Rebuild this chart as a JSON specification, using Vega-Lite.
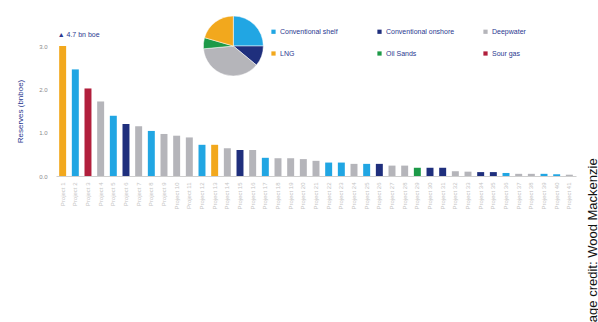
{
  "$schema": "https://vega.github.io/schema/vega-lite/v6.json",
  "width": 520,
  "height": 130,
  "autosize": {"type": "none"},
  "padding": {"left": 56, "top": 46, "right": 22, "bottom": 146},
  "background": "white",
  "config": {
    "font": "Liberation Sans",
    "view": {"stroke": null}
  },
  "datasets": {
    "projects": [
      {"name": "Project 1", "type": "LNG", "reserves": 4.7},
      {"name": "Project 2", "type": "Conventional shelf", "reserves": 2.46},
      {"name": "Project 3", "type": "Sour gas", "reserves": 2.02},
      {"name": "Project 4", "type": "Deepwater", "reserves": 1.72},
      {"name": "Project 5", "type": "Conventional shelf", "reserves": 1.39},
      {"name": "Project 6", "type": "Conventional onshore", "reserves": 1.2},
      {"name": "Project 7", "type": "Deepwater", "reserves": 1.15},
      {"name": "Project 8", "type": "Conventional shelf", "reserves": 1.04},
      {"name": "Project 9", "type": "Deepwater", "reserves": 0.97},
      {"name": "Project 10", "type": "Deepwater", "reserves": 0.93},
      {"name": "Project 11", "type": "Deepwater", "reserves": 0.89},
      {"name": "Project 12", "type": "Conventional shelf", "reserves": 0.72},
      {"name": "Project 13", "type": "LNG", "reserves": 0.72},
      {"name": "Project 14", "type": "Deepwater", "reserves": 0.64},
      {"name": "Project 15", "type": "Conventional onshore", "reserves": 0.6},
      {"name": "Project 16", "type": "Deepwater", "reserves": 0.6},
      {"name": "Project 17", "type": "Conventional shelf", "reserves": 0.42},
      {"name": "Project 18", "type": "Deepwater", "reserves": 0.41},
      {"name": "Project 19", "type": "Deepwater", "reserves": 0.41},
      {"name": "Project 20", "type": "Deepwater", "reserves": 0.39},
      {"name": "Project 21", "type": "Deepwater", "reserves": 0.35},
      {"name": "Project 22", "type": "Conventional shelf", "reserves": 0.31},
      {"name": "Project 23", "type": "Conventional shelf", "reserves": 0.31},
      {"name": "Project 24", "type": "Deepwater", "reserves": 0.28},
      {"name": "Project 25", "type": "Conventional shelf", "reserves": 0.28},
      {"name": "Project 26", "type": "Conventional onshore", "reserves": 0.28},
      {"name": "Project 27", "type": "Deepwater", "reserves": 0.24},
      {"name": "Project 28", "type": "Deepwater", "reserves": 0.24},
      {"name": "Project 29", "type": "Oil Sands", "reserves": 0.19},
      {"name": "Project 30", "type": "Conventional onshore", "reserves": 0.19},
      {"name": "Project 31", "type": "Conventional onshore", "reserves": 0.19},
      {"name": "Project 32", "type": "Deepwater", "reserves": 0.11},
      {"name": "Project 33", "type": "Deepwater", "reserves": 0.1},
      {"name": "Project 34", "type": "Conventional onshore", "reserves": 0.09},
      {"name": "Project 35", "type": "Conventional onshore", "reserves": 0.09},
      {"name": "Project 36", "type": "Conventional shelf", "reserves": 0.07},
      {"name": "Project 37", "type": "Deepwater", "reserves": 0.05},
      {"name": "Project 38", "type": "Deepwater", "reserves": 0.05},
      {"name": "Project 39", "type": "Conventional shelf", "reserves": 0.05},
      {"name": "Project 40", "type": "Conventional shelf", "reserves": 0.04},
      {"name": "Project 41", "type": "Deepwater", "reserves": 0.03}
    ],
    "share": [
      {"type": "Conventional shelf", "share": 25, "ord": 1},
      {"type": "Conventional onshore", "share": 11, "ord": 2},
      {"type": "Deepwater", "share": 37.5, "ord": 3},
      {"type": "Oil Sands", "share": 6, "ord": 4},
      {"type": "LNG", "share": 20.5, "ord": 5}
    ],
    "notes": [{"label": "▲ 4.7 bn boe"}],
    "credit": [{"label": "Image credit: Wood Mackenzie"}]
  },
  "layer": [
    {
      "data": {"name": "projects"},
      "mark": {"type": "bar", "clip": true},
      "encoding": {
        "x": {
          "field": "name", "type": "nominal", "sort": null,
          "scale": {"paddingInner": 0.45, "paddingOuter": 0.25},
          "axis": {
            "title": null, "labelAngle": 270, "labelFontSize": 6, "labelColor": "#c4c4c4",
            "domainColor": "#cfcfcf", "ticks": false, "labelPadding": 6
          }
        },
        "y": {
          "field": "reserves", "type": "quantitative",
          "scale": {"domain": [0, 3], "nice": false},
          "axis": {
            "title": "Reserves (bnboe)", "titleColor": "#2b3990", "titleFontSize": 8, "titleFontWeight": "normal",
            "titlePadding": 14, "values": [0, 0.5, 1, 1.5, 2, 2.5, 3], "format": ".1f",
            "labelFontSize": 6, "labelColor": "#8a8a8a", "labelPadding": 9,
            "domain": false, "ticks": false, "grid": false
          }
        },
        "color": {
          "field": "type", "type": "nominal",
          "scale": {
            "domain": ["Conventional shelf", "Conventional onshore", "Deepwater", "LNG", "Oil Sands", "Sour gas"],
            "range": ["#21a6e3", "#1f2f7d", "#b5b5ba", "#f2a81d", "#1d9a48", "#b11f3c"]
          },
          "legend": {
            "title": null, "orient": "none", "legendX": 214, "legendY": -18, "columns": 3,
            "direction": "horizontal", "gridAlign": "all", "symbolType": "square", "symbolSize": 18,
            "symbolStrokeWidth": 0, "labelFontSize": 7, "labelColor": "#2b3990", "labelOffset": 3,
            "columnPadding": 27, "rowPadding": 14
          }
        }
      }
    },
    {
      "data": {"name": "share"},
      "mark": {"type": "arc", "radius": 30, "xOffset": 6, "stroke": "white", "strokeWidth": 0.5},
      "encoding": {
        "x": {"datum": "Project 14", "type": "nominal"},
        "y": {"datum": 3, "type": "quantitative"},
        "theta": {"field": "share", "type": "quantitative", "stack": true},
        "order": {"field": "ord", "type": "quantitative"},
        "color": {"field": "type", "type": "nominal"}
      }
    },
    {
      "data": {"name": "notes"},
      "mark": {"type": "text", "align": "left", "baseline": "middle", "dx": -5, "dy": -11, "fontSize": 7, "color": "#2b3990"},
      "encoding": {
        "x": {"datum": "Project 1", "type": "nominal"},
        "y": {"datum": 3, "type": "quantitative"},
        "text": {"field": "label"}
      }
    },
    {
      "data": {"name": "credit"},
      "mark": {"type": "text", "angle": 270, "align": "center", "baseline": "middle", "xOffset": 24, "fontSize": 13, "color": "#111111"},
      "encoding": {
        "x": {"datum": "Project 41", "type": "nominal"},
        "y": {"datum": -1.65, "type": "quantitative"},
        "text": {"field": "label"}
      }
    }
  ]
}
